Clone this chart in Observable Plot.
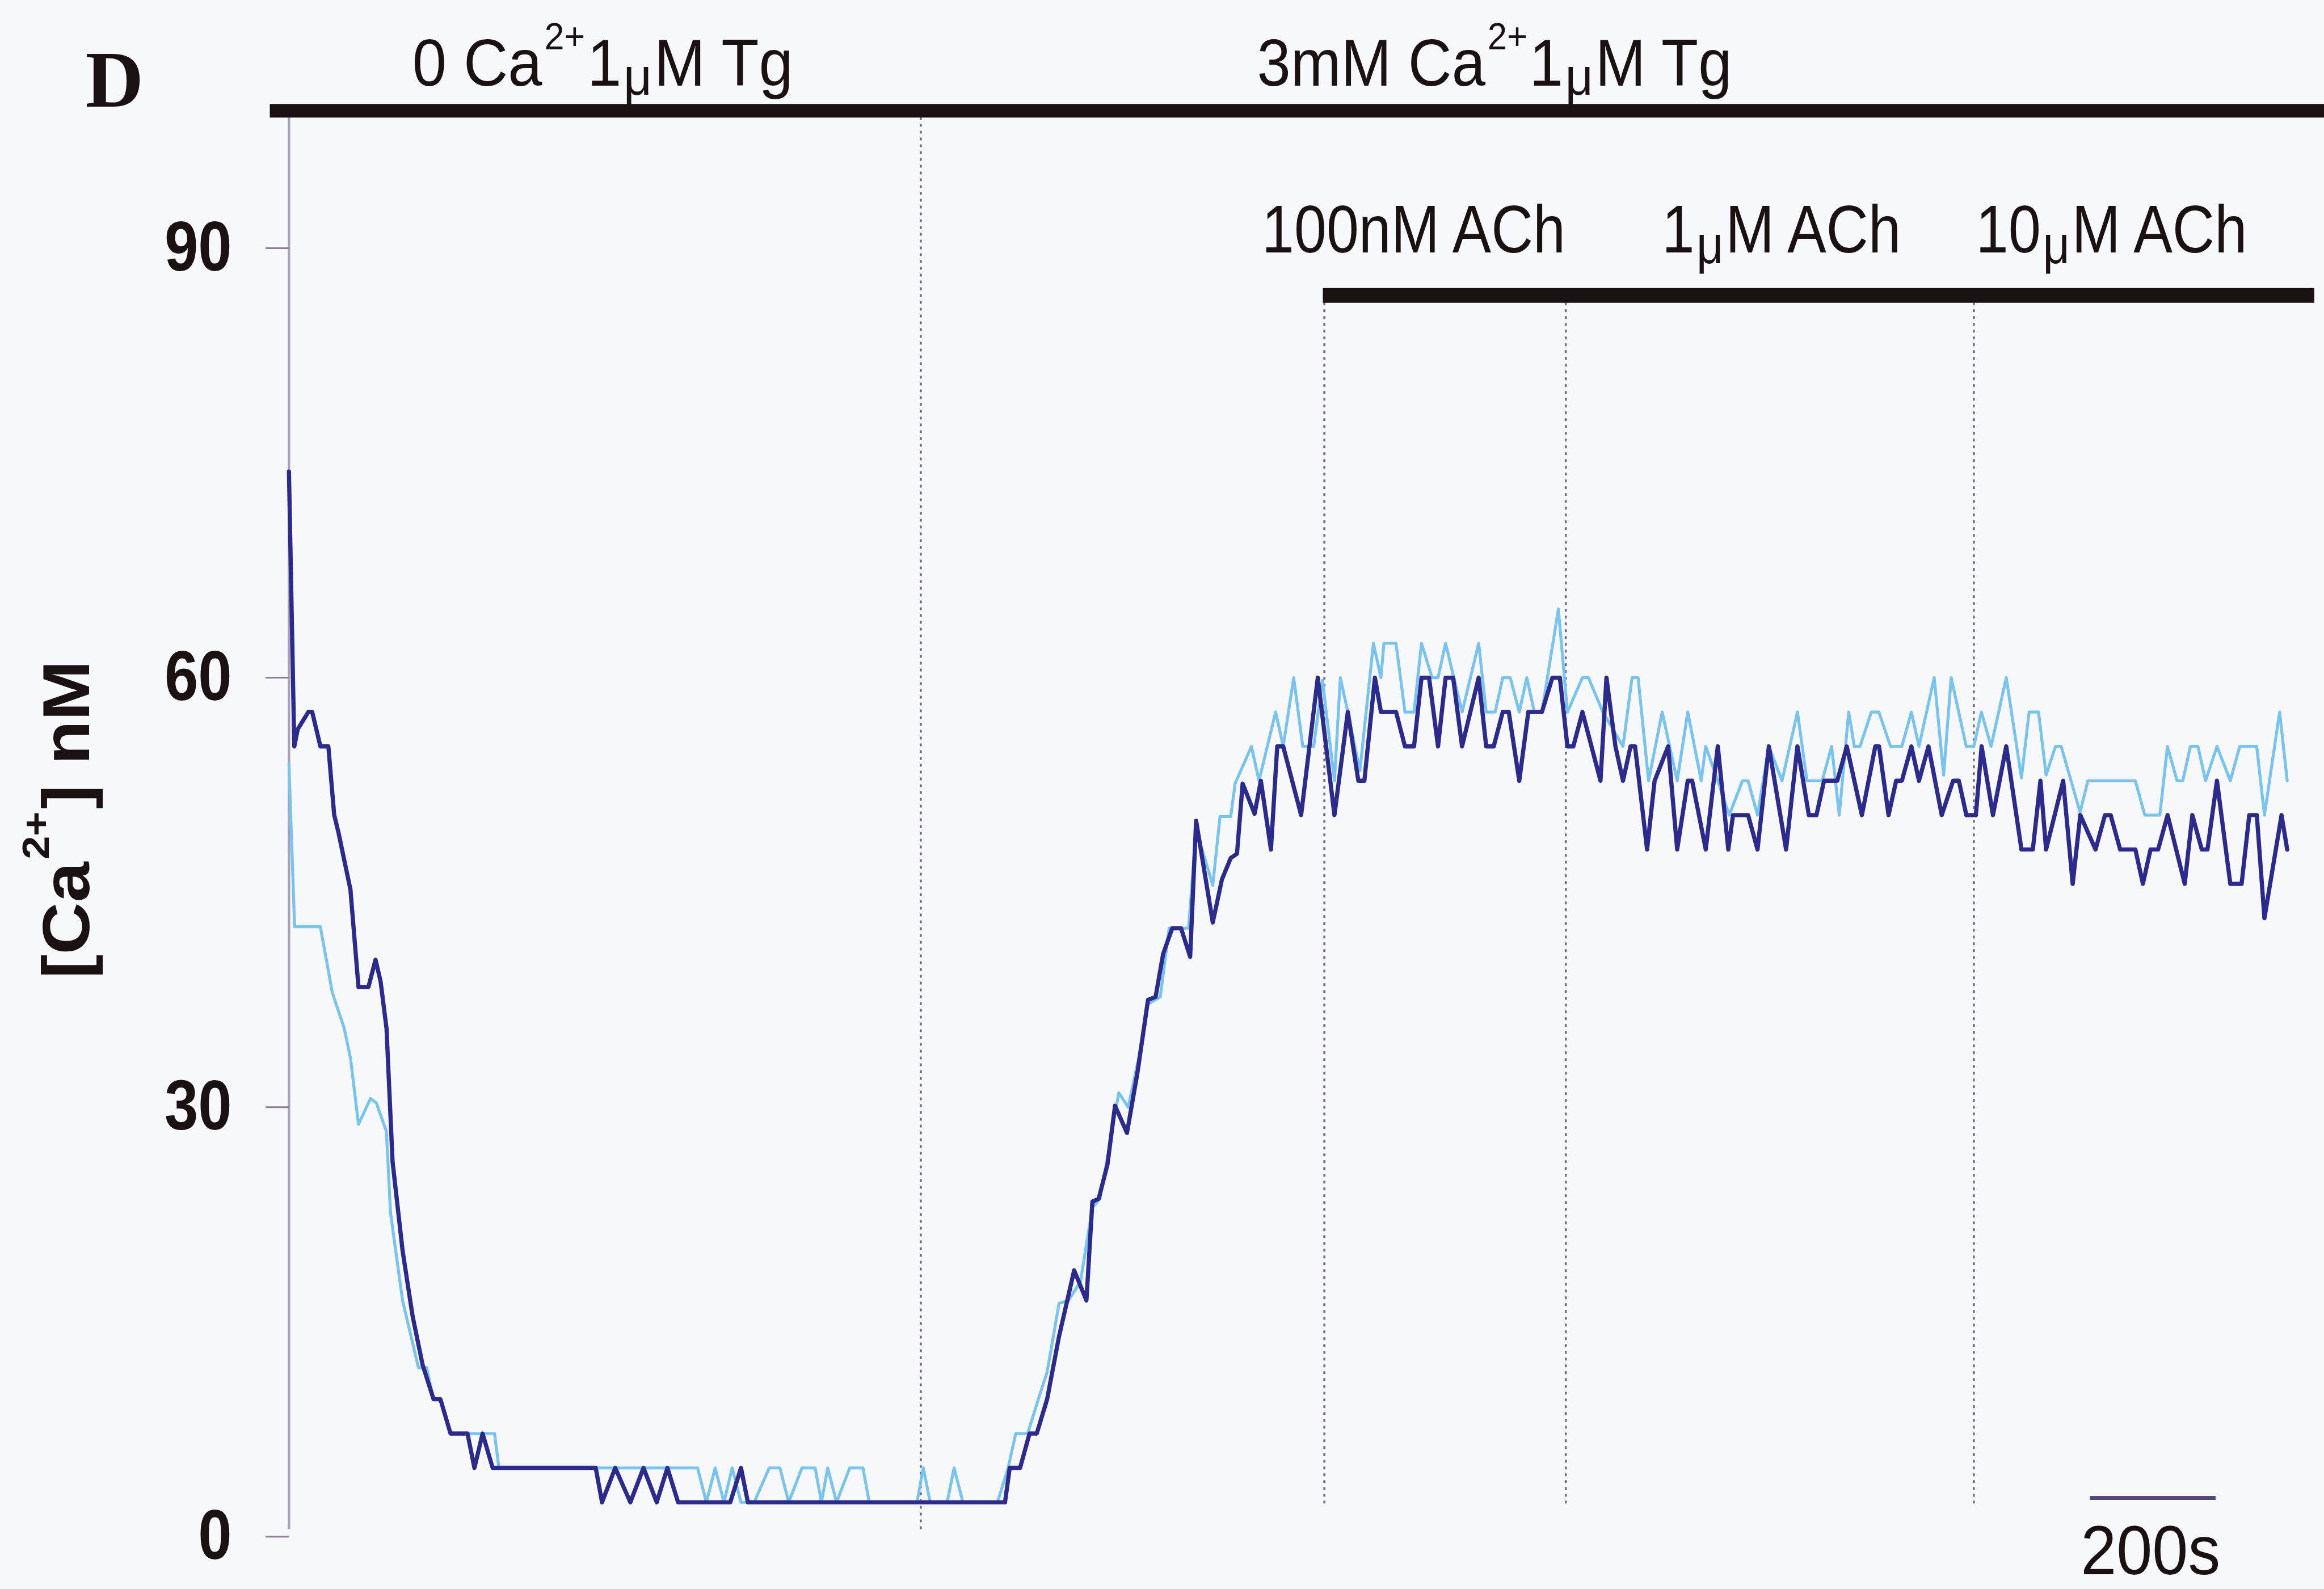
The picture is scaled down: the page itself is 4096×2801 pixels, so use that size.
<!DOCTYPE html>
<html>
<head>
<meta charset="utf-8">
<script src="https://cdn.jsdelivr.net/npm/d3@7"></script>
<script src="https://cdn.jsdelivr.net/npm/@observablehq/plot@0.6"></script>
<style>
  html, body { margin: 0; padding: 0; background: #f7f8fc; overflow: hidden; }
</style>
</head>
<body>
<div id="chart"></div>
<script>
// ================= DATA =================
// dark trace: time (s) and [Ca2+] (nM)
const darkT = [0,8.5,14,30.8,37,50,62.7,72,78.7,97.8,110.6,126.5,137.7,145.7,155.2,164.8,180.7,196.7,212.6,230,241,257,284,295,308,324,488,498,519,543,564,585,602,619,702,719,730,1139,1146.5,1163,1178,1189.5,1206,1225,1249,1268.5,1278,1288,1302,1314,1333,1350,1366.5,1378.5,1390.5,1405,1419,1433.5,1443,1469.5,1484,1498,1508,1517,1536,1546,1562,1572,1581.5,1610,1636.5,1663,1684.3,1701,1710.6,1727.4,1737,1761,1775.2,1789.6,1801.5,1813.5,1827.8,1839.8,1851.8,1866,1892.4,1904.4,1916.3,1930.7,1940.3,1957,1971.4,1993,2009.6,2021.6,2033.6,2043,2057.5,2086.2,2095.7,2110,2122,2134,2141.2,2160.3,2172.3,2193.8,2208.2,2225,2232,2253.6,2272.8,2289.5,2297,2321,2336,2354,2381.4,2399.5,2417.6,2429.7,2441.8,2462.9,2478,2502,2523.3,2529.3,2544.4,2556.5,2565.6,2580.7,2592.8,2607.9,2629,2647.1,2656.2,2668.2,2683.3,2692.4,2710.5,2731.6,2755.8,2773.9,2786,2795,2822.2,2837.3,2849.4,2873.6,2888.7,2897.7,2912.8,2937,2949,2961.1,2973.2,2988.3,3015.5,3027.6,3042.6,3051.7,3066.8,3088,3106,3118.2,3130.2,3142.3,3169.5,3178.5];
const darkV = [74.4,55.2,56.4,57.6,57.6,55.2,55.2,50.4,49.2,45.2,38.4,38.4,40.3,38.8,35.5,26.2,20.0,15.4,12.0,9.6,9.6,7.2,7.2,4.8,7.2,4.8,4.8,2.4,4.8,2.4,4.8,2.4,4.8,2.4,2.4,4.8,2.4,2.4,4.8,4.8,7.2,7.2,9.6,14.0,18.6,16.5,23.4,23.6,26.0,30.1,28.2,32.5,37.5,37.7,40.7,42.5,42.5,40.5,50.0,42.9,45.9,47.4,47.7,52.6,50.5,52.8,48.0,55.2,55.2,50.4,60.0,50.4,57.6,52.8,52.8,60.0,57.6,57.6,55.2,55.2,60.0,60.0,55.2,60.0,60.0,55.2,60.0,55.2,55.2,57.6,57.6,52.8,57.6,57.6,60.0,60.0,55.2,55.2,57.6,52.8,60.0,55.2,52.8,55.2,55.2,48.0,52.8,55.2,48.0,52.8,52.8,48.0,55.2,48.0,50.4,50.4,48.0,55.2,48.0,55.2,50.4,50.4,52.8,52.8,55.2,50.4,55.2,55.2,50.4,52.8,52.8,55.2,52.8,55.2,50.4,52.8,52.8,50.4,50.4,55.2,50.4,55.2,48.0,48.0,52.8,48.0,52.8,45.6,50.4,48.0,50.4,50.4,48.0,48.0,45.6,48.0,48.0,50.4,45.6,50.4,48.0,48.0,52.8,45.6,45.6,50.4,50.4,43.2,50.4,48.0];
// light trace: time (s) and [Ca2+] (nM)
const lightT = [0,9,50,69,88,98,110.6,129.7,139,155,161.6,180.7,206,219,230,241,257,327,334,650,664,678,692,705,719,740,764,781,795,816,837,847,857,871,892,913,923,999,1009,1020,1047,1058,1072,1127,1144,1156,1175,1192,1206,1225,1240,1259,1278,1290,1302,1320,1335,1352,1366,1386,1400,1431,1443,1469.5,1481,1498,1505,1531,1543,1569.5,1581.5,1598.2,1612.6,1630,1644,1663,1672.4,1684.3,1703.5,1725,1737,1741.7,1760.9,1775.2,1789.6,1801.5,1818.3,1827.8,1839.8,1866.1,1892.4,1904.4,1918.7,1930.7,1942.7,1957,1969,1981,1993,2019.2,2033.6,2057.5,2067,2090,2122,2136.4,2146,2162.7,2184.3,2208.2,2225,2246.4,2253.6,2272.8,2291,2312,2321,2336,2354,2375,2399.5,2414.6,2438.8,2453.9,2466,2481,2490,2499,2517,2529,2547.5,2565.6,2580.7,2592.8,2617,2632,2644,2668,2680,2692,2707.5,2731.6,2755.8,2768,2783,2795,2810,2819,2849,2861.5,2937,2952,2976,2988,3003.4,3012.5,3024.5,3036.6,3048.7,3066.8,3088,3103,3130,3142.3,3166.5,3178.5];
const lightV = [54.0,42.6,42.6,38.0,35.5,33.4,28.8,30.6,30.3,28.3,22.6,16.5,11.8,11.8,9.6,9.6,7.2,7.2,4.8,4.8,2.4,4.8,2.4,4.8,2.4,2.4,4.8,4.8,2.4,4.8,4.8,2.4,4.8,2.4,4.8,4.8,2.4,2.4,4.8,2.4,2.4,4.8,2.4,2.4,4.8,7.2,7.2,9.6,11.5,16.3,16.5,17.8,23.0,23.6,26.5,31.0,30.0,33.5,37.2,37.7,42.5,42.5,49.4,45.5,50.3,50.3,52.6,55.2,52.8,57.6,55.2,60.0,55.2,55.2,59.8,52.8,60.0,57.6,53.5,62.4,60.0,62.4,62.4,57.6,57.6,62.4,60.0,60.0,62.4,57.6,62.4,57.6,57.6,60.0,60.0,57.6,60.0,57.6,57.6,64.8,57.6,60.0,60.0,57.6,55.2,60.0,60.0,52.8,57.6,52.8,57.6,52.8,55.2,52.8,50.4,52.8,52.8,50.4,55.2,52.8,57.6,52.8,52.8,55.2,50.4,57.6,55.2,55.2,57.6,57.6,55.2,55.2,57.6,55.2,60.0,53.2,60.0,55.2,55.2,57.6,55.2,60.0,53.0,57.6,57.6,53.2,55.2,55.2,50.6,52.8,52.8,50.4,50.4,55.2,52.8,52.8,55.2,55.2,52.8,55.2,52.8,55.2,55.2,50.4,57.6,52.8];

const yTicks = [0, 30, 60, 90];
const calciumSwitchT = [1005];            // 0 Ca -> 3 mM Ca
const achSwitchT = [1647, 2031, 2680];     // 100 nM, 1 uM, 10 uM ACh
const achEndT = 3222;
const protocolLabels = ["0 Ca^{2+}1_{μ}M Tg", "3mM Ca^{2+}1_{μ}M Tg"];
const achLabels = ["100nM ACh", "1_{μ}M ACh", "10_{μ}M ACh"];
const panelLetter = "D";
const yLabel = "[Ca^{2+}] nM";
const scaleBarSeconds = 200;
const scaleBarLabel = "200s";

// ================= LAYOUT =================
const k = 4096 / 4436;
const W = 4096, H = 2801;
const xDomain = [0, 3200];
const yDomain = [0, 90];
const mL = 551 * k, mR = W - (551 + 1.2 * 3200) * k;
const mT = (2933 - 27.33 * 90) * k, mB = H - 2933 * k;

const SANS = "'Liberation Sans', Arial, Helvetica, sans-serif";
const SERIF = "'Liberation Serif', 'Times New Roman', serif";
const INK = "#1a1212";

const toRows = (T, V) => T.map((t, i) => ({t, v: V[i]}));
const dark = toRows(darkT, darkV);
const light = toRows(lightT, lightV);

const protocolLabelPos = [499, 1917.5];
const achLabelPos = [1789, 2374, 2899];

const chart = Plot.plot({
  width: W,
  height: H,
  marginLeft: mL,
  marginRight: mR,
  marginTop: mT,
  marginBottom: mB,
  style: {background: "#f7f8fc", fontFamily: SANS, overflow: "visible"},
  x: {domain: xDomain, axis: null},
  y: {domain: yDomain, axis: null},
  marks: [
    Plot.ruleX(calciumSwitchT, {y1: 0.5, y2: 99.6, stroke: "#776c7e", strokeWidth: 3.6, strokeDasharray: "5,7"}),
    Plot.ruleX(achSwitchT, {y1: 2.3, y2: 86.7, stroke: "#776c7e", strokeWidth: 3.6, strokeDasharray: "5,7"}),
    Plot.ruleX([0], {y1: 0.5, y2: 99.5, stroke: "#aaa1b8", strokeWidth: 4.5}),
    Plot.axisY(yTicks, {
      tickSize: 40.6, tickPadding: 60, fontSize: 124, fontWeight: "bold",
      color: INK, stroke: "#8b7d96", strokeWidth: 3, label: null
    }),
    Plot.ruleY([{t1: -30, t2: 3260, v: 99.6}], {x1: "t1", x2: "t2", y: "v", stroke: INK, strokeWidth: 24}),
    Plot.ruleY([{t1: achSwitchT[0] - 2, t2: achEndT, v: 86.7}], {x1: "t1", x2: "t2", y: "v", stroke: INK, strokeWidth: 26}),
    Plot.line(light, {x: "t", y: "v", stroke: "#79c3ef", strokeWidth: 5.2}),
    Plot.line(dark, {x: "t", y: "v", stroke: "#2c2a8d", strokeWidth: 7.4}),
    Plot.ruleY([{t1: 2865, t2: 2865 + scaleBarSeconds, v: 2.7}], {x1: "t1", x2: "t2", y: "v", stroke: "#54467e", strokeWidth: 7}),
    Plot.text([scaleBarLabel], {x: 2865 + scaleBarSeconds / 2 - 4, y: -2.63, fontSize: 123, fill: INK, textAnchor: "middle", lineAnchor: "bottom"}),
    Plot.text(protocolLabels, {x: (d, i) => protocolLabelPos[i], y: 101.35, fontSize: 116, fill: INK, textAnchor: "middle", lineAnchor: "bottom"}),
    Plot.text(achLabels, {x: (d, i) => achLabelPos[i], y: 89.7, fontSize: 118, fill: INK, textAnchor: "middle", lineAnchor: "bottom"}),
    Plot.text([panelLetter], {x: -277.5, y: 99.9, fontSize: 142, fontFamily: SERIF, fontWeight: "bold", fill: INK, textAnchor: "middle", lineAnchor: "bottom"}),
    Plot.text([yLabel], {x: -317.5, y: 50.1, rotate: -90, fontSize: 116, fontWeight: "bold", fill: INK, textAnchor: "middle", lineAnchor: "bottom"})
  ]
});

document.getElementById("chart").append(chart);

// ---- rich text (superscripts / lowered mu) and horizontal condensing ----
const NS = "http://www.w3.org/2000/svg";
const richStyle = {
  "0 Ca^{2+}1_{μ}M Tg": {base: 116, raise: 0.55, drop: 0.14, width: 671},
  "3mM Ca^{2+}1_{μ}M Tg": {base: 116, raise: 0.55, drop: 0.14, width: 837},
  "100nM ACh": {base: 118, width: 535},
  "1_{μ}M ACh": {base: 118, raise: 0.55, drop: 0.16, width: 421},
  "10_{μ}M ACh": {base: 118, raise: 0.55, drop: 0.16, width: 478},
  "[Ca^{2+}] nM": {base: 116, raise: 0.62, drop: 0.1, width: 561},
  "200s": {base: 123, width: 246}
};
function richify(el, raw, st) {
  if (!/[\^_]\{/.test(raw)) return;
  while (el.firstChild) el.removeChild(el.firstChild);
  const parts = raw.split(/(\^\{[^}]*\}|_\{[^}]*\})/).filter(p => p !== "");
  let shift = 0, prevSpecial = false;
  for (const p of parts) {
    const ts = document.createElementNS(NS, "tspan");
    let target = 0, txt = p, special = false;
    if (p.startsWith("^{")) {
      target = -st.raise * st.base; txt = p.slice(2, -1); special = true;
      ts.setAttribute("font-size", 0.58 * st.base);
    } else if (p.startsWith("_{")) {
      target = st.drop * st.base; txt = p.slice(2, -1); special = true;
      ts.setAttribute("font-size", 0.8 * st.base);
    }
    if (target - shift !== 0) ts.setAttribute("dy", target - shift);
    if (el.childNodes.length && (special || prevSpecial)) ts.setAttribute("dx", 0.035 * st.base);
    shift = target;
    prevSpecial = special;
    ts.textContent = txt;
    el.appendChild(ts);
  }
}
chart.querySelectorAll("text").forEach(el => {
  const raw = el.textContent;
  const st = richStyle[raw];
  if (st) {
    richify(el, raw, st);
    el.setAttribute("textLength", st.width);
    el.setAttribute("lengthAdjust", "spacingAndGlyphs");
  }
});
chart.querySelectorAll('g[aria-label="y-axis tick label"] text').forEach(el => {
  const w = el.getComputedTextLength();
  el.setAttribute("textLength", w * 0.86);
  el.setAttribute("lengthAdjust", "spacingAndGlyphs");
});
</script>
</body>
</html>
